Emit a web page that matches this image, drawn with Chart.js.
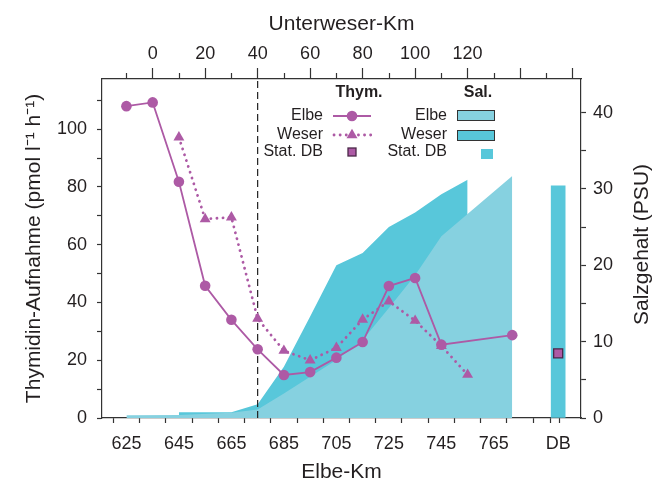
<!DOCTYPE html>
<html>
<head>
<meta charset="utf-8">
<script src="https://cdn.jsdelivr.net/npm/chart.js@4.4.1/dist/chart.umd.min.js"></script>
<style>
  body { margin: 0; background: #fff; }
  canvas { display: block; }
</style>
</head>
<body>
<canvas id="grafico" width="664" height="482"></canvas>
<script>
// Daten
const elbeKm = [625, 635, 645, 655, 665, 675, 685, 695, 705, 715, 725, 735, 745, 772]
const elbeThym = [108, 109.3, 81.8, 45.8, 34, 23.8, 14.9, 15.9, 20.9, 26.3, 45.7, 48.5, 25.4, 28.7]
const weserKm = [10, 20, 30, 40, 50, 60, 70, 80, 90, 100, 110, 120] // Unterweser-Km
const weserThym = [97.2, 68.9, 69.5, 34.4, 23.3, 20, 24.3, 34.1, 40.4, 33.7, 25, 15]
const elbeSalKm = [625, 645, 665, 675, 685, 695, 705, 715, 725, 735, 745, 772]
const elbeSal = [0.35, 0.4, 0.7, 1.1, 3.2, 5.4, 7.6, 10.2, 14.4, 18.7, 23.8, 31.7]
const weserSalKm = [10, 20, 30, 40, 50, 60, 70, 80, 90, 100, 110, 120]
const weserSal = [0.75, 0.75, 0.75, 1.8, 6.7, 13.3, 20, 21.6, 25, 26.9, 29.3, 31.2]
const dbKm = 789.5
const dbThym = 22.4
const dbSal = 30.4

// Achsen
const weserOffset = 635 // Unterweser-Km 0 = Elbe-Km 635
const grenzeKm = 675    // gestrichelte Linie
const xMin = 615.7, xMax = 798.2
const thymMax = 117.4, salMax = 44.4
const elbeTickLabels = [625, 645, 665, 685, 705, 725, 745, 765]
const weserTickLabels = [0, 20, 40, 60, 80, 100, 120]
const thymTickLabels = [0, 20, 40, 60, 80, 100]
const salTickLabels = [0, 10, 20, 30, 40]

const lila = '#ad5aa5'
const hellblau = '#86d1e0'
const dunkelblau = '#58c7da'
const textFarbe = '#231f20'
const achsenFarbe = '#333'
const schrift = 'Arial, "Liberation Sans", Helvetica, sans-serif'

const range = (a, b, s) => { const r = []; for (let v = a; v <= b + 1e-9; v += s) r.push(v); return r }
const toPoints = (xs, ys, off = 0) => xs.map((x, i) => ({ x: x + off, y: ys[i] }))

const tickFont = { family: schrift, size: 18 }
const titleFont = { family: schrift, size: 21 }
const border = { display: true, color: achsenFarbe, width: 1.2 }

// Plugins
const zusatz = {
    id: 'zusatz',
    afterDatasetDraw(chart, args) {
        // gestrichelte Linie über den Salzflächen
        if (chart.data.datasets[args.index].id !== 'elbeSal') return
        const { ctx, chartArea } = chart
        const x = chart.scales.x.getPixelForValue(grenzeKm)
        ctx.save()
        ctx.strokeStyle = '#222'
        ctx.lineWidth = 1.2
        ctx.setLineDash([7, 4])
        ctx.beginPath()
        ctx.moveTo(x, chartArea.bottom)
        ctx.lineTo(x, chartArea.top)
        ctx.stroke()
        ctx.restore()
    },
    afterDraw(chart) {
        const { ctx, chartArea } = chart
        // kurze Ticks oben
        const top = chart.scales.xW
        ctx.save()
        ctx.strokeStyle = achsenFarbe
        ctx.lineWidth = 1.2
        range(-10, 160, 10).filter(v => v % 20 !== 0).forEach(v => {
            const x = Math.round(top.getPixelForValue(v)) + 0.5
            ctx.beginPath()
            ctx.moveTo(x, chartArea.top)
            ctx.lineTo(x, chartArea.top - 6)
            ctx.stroke()
        })
        // rechter Achsentitel (von unten nach oben)
        const r = chart.scales.ySal
        ctx.fillStyle = textFarbe
        ctx.font = `21px ${schrift}`
        ctx.textAlign = 'center'
        ctx.textBaseline = 'middle'
        ctx.translate(r.right - 22, (chartArea.top + chartArea.bottom) / 2 - 4)
        ctx.rotate(-Math.PI / 2)
        ctx.fillText('Salzgehalt (PSU)', 0, 0)
        ctx.restore()

        // Legende
        ctx.save()
        ctx.fillStyle = textFarbe
        ctx.textBaseline = 'middle'
        ctx.font = `bold 16px ${schrift}`
        ctx.textAlign = 'center'
        ctx.fillText('Thym.', 359, 93)
        ctx.fillText('Sal.', 478, 93)
        ctx.font = `16px ${schrift}`
        ctx.textAlign = 'right'
        const rows = [116, 135, 152]
        const namen = ['Elbe', 'Weser', 'Stat. DB']
        namen.forEach((n, i) => {
            ctx.fillText(n, 323, rows[i])
            ctx.fillText(n, 447, rows[i])
        })
        ctx.strokeStyle = lila
        ctx.fillStyle = lila
        ctx.lineWidth = 1.8
        ctx.beginPath(); ctx.moveTo(333, rows[0]); ctx.lineTo(371, rows[0]); ctx.stroke()
        ctx.beginPath(); ctx.arc(352, rows[0], 5.3, 0, Math.PI * 2); ctx.fill()
        ctx.lineWidth = 2.8
        ctx.lineCap = 'round'
        ctx.setLineDash([0.1, 6])
        ctx.beginPath(); ctx.moveTo(334, rows[1]); ctx.lineTo(371, rows[1]); ctx.stroke()
        ctx.setLineDash([])
        ctx.beginPath()
        ctx.moveTo(352, rows[1] - 6.3); ctx.lineTo(357.5, rows[1] + 3.2); ctx.lineTo(346.5, rows[1] + 3.2)
        ctx.closePath(); ctx.fill()
        ctx.fillRect(348, rows[2] - 4, 8, 8)
        ctx.strokeStyle = '#4a2748'; ctx.lineWidth = 1.3
        ctx.strokeRect(348, rows[2] - 4, 8, 8)
        ctx.strokeStyle = achsenFarbe; ctx.lineWidth = 1
        ctx.fillStyle = hellblau
        ctx.fillRect(457.5, 110.5, 37, 10); ctx.strokeRect(457.5, 110.5, 37, 10)
        ctx.fillStyle = dunkelblau
        ctx.fillRect(457.5, 130.5, 37, 10); ctx.strokeRect(457.5, 130.5, 37, 10)
        ctx.fillRect(481, 149, 12, 10)
        ctx.restore()
    }
}

const ctx = document.getElementById('grafico').getContext('2d')
new Chart(ctx, {
    type: 'line',
    data: {
        datasets: [
            {
                label: 'Elbe', data: toPoints(elbeKm, elbeThym), yAxisID: 'y',
                borderColor: lila, backgroundColor: lila, borderWidth: 1.8,
                pointRadius: 5.3, pointBorderWidth: 0, pointBackgroundColor: lila, tension: 0, order: 1
            },
            {
                label: 'Weser', data: toPoints(weserKm, weserThym, weserOffset), yAxisID: 'y',
                borderColor: lila, backgroundColor: lila, borderWidth: 2.8,
                borderDash: [0.1, 6], borderCapStyle: 'round',
                pointStyle: 'triangle', pointRadius: 6.3, pointBorderWidth: 0, pointBackgroundColor: lila,
                tension: 0, order: 2
            },
            {
                label: 'Stat. DB', data: [{ x: dbKm, y: dbThym }], yAxisID: 'y', showLine: false,
                pointStyle: 'rect', pointRadius: 6.4, pointBackgroundColor: lila,
                pointBorderColor: '#4a2748', pointBorderWidth: 1.3, order: 3
            },
            {
                id: 'elbeSal', label: 'Elbe Sal.', data: toPoints(elbeSalKm, elbeSal), yAxisID: 'ySal',
                borderColor: 'rgba(0,0,0,0)', borderWidth: 0, backgroundColor: hellblau,
                fill: 'origin', pointRadius: 0, tension: 0, order: 10
            },
            {
                label: 'Weser Sal.', data: toPoints(weserSalKm, weserSal, weserOffset), yAxisID: 'ySal',
                borderColor: 'rgba(0,0,0,0)', borderWidth: 0, backgroundColor: dunkelblau,
                fill: 'origin', pointRadius: 0, tension: 0, order: 11
            },
            {
                type: 'bar', label: 'Stat. DB Sal.', data: [{ x: dbKm, y: dbSal }], yAxisID: 'ySal',
                backgroundColor: dunkelblau, borderWidth: 0, barThickness: 14, order: 12
            }
        ]
    },
    options: {
        responsive: false,
        animation: false,
        layout: { padding: 0 },
        plugins: { legend: { display: false }, tooltip: { enabled: false } },
        scales: {
            x: {
                type: 'linear', position: 'bottom', min: xMin, max: xMax, offset: false,
                afterFit: s => { s.height = 64 },
                afterBuildTicks: s => { s.ticks = range(625, 795, 10).concat([dbKm]).map(v => ({ value: v })) },
                ticks: {
                    autoSkip: false, maxRotation: 0, padding: 10, color: textFarbe, font: tickFont,
                    callback: v => v === dbKm ? 'DB' : (elbeTickLabels.includes(v) ? String(v) : '')
                },
                grid: {
                    drawOnChartArea: false, tickLength: 5, tickWidth: 1.2,
                    tickColor: c => (c.tick && c.tick.value === dbKm) ? 'rgba(0,0,0,0)' : achsenFarbe
                },
                border: border,
                title: { display: true, text: 'Elbe-Km', color: textFarbe, font: titleFont, padding: { top: 0, bottom: -3 } }
            },
            xW: {
                type: 'linear', position: 'top', min: xMin - weserOffset, max: xMax - weserOffset,
                afterFit: s => { s.height = 79 },
                afterBuildTicks: s => { s.ticks = range(-10, 160, 10).map(v => ({ value: v })) },
                ticks: {
                    autoSkip: false, maxRotation: 0, padding: 3, color: textFarbe, font: tickFont,
                    callback: v => weserTickLabels.includes(v) ? String(v) : ''
                },
                grid: {
                    drawOnChartArea: false, tickLength: 11, tickWidth: 1.2,
                    tickColor: c => (c.tick && c.tick.value % 20 === 0) ? achsenFarbe : 'rgba(0,0,0,0)'
                },
                border: border,
                title: { display: true, text: 'Unterweser-Km', color: textFarbe, font: titleFont, padding: { top: 12, bottom: 0 } }
            },
            y: {
                type: 'linear', position: 'left', min: 0, max: thymMax,
                afterFit: s => { s.width = 102 },
                afterBuildTicks: s => { s.ticks = range(0, 110, 10).map(v => ({ value: v })) },
                ticks: {
                    autoSkip: false, padding: 10, color: textFarbe, font: tickFont,
                    callback: v => thymTickLabels.includes(v) ? String(v) : ''
                },
                grid: { drawOnChartArea: false, tickLength: 5, tickWidth: 1.2, tickColor: achsenFarbe },
                border: border,
                title: { display: true, text: 'Thymidin-Aufnahme (pmol l⁻¹ h⁻¹)', color: textFarbe, font: titleFont, padding: { top: 22, bottom: 0 } }
            },
            ySal: {
                type: 'linear', position: 'right', min: 0, max: salMax,
                afterFit: s => { s.width = 83 },
                afterBuildTicks: s => { s.ticks = range(0, 40, 5).map(v => ({ value: v })) },
                ticks: {
                    autoSkip: false, padding: 7, color: textFarbe, font: tickFont,
                    callback: v => salTickLabels.includes(v) ? String(v) : ''
                },
                grid: { drawOnChartArea: false, tickLength: 5, tickWidth: 1.2, tickColor: achsenFarbe },
                border: border
            }
        }
    },
    plugins: [zusatz]
})
</script>
</body>
</html>
